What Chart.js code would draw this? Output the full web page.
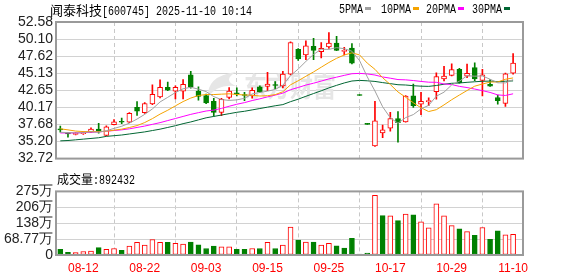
<!DOCTYPE html>
<html>
<head>
<meta charset="utf-8">
<script src="https://cdn.jsdelivr.net/npm/chart.js@4.4.1/dist/chart.umd.min.js"></script>
<style>
  html, body { margin: 0; padding: 0; background: #fff; }
  #wrap { position: relative; width: 578px; height: 276px; overflow: hidden; }
  canvas { position: absolute; left: 0; }
  #price-chart { top: 0; }
  #vol-chart { top: 180px; }
  .txt { position: absolute; white-space: nowrap; color: #000; line-height: 1; }
  .cjk { font-family: "Noto Sans CJK SC", sans-serif; font-size: 13px; }
  .mono { display: inline-block; font-family: "Liberation Mono", monospace; font-size: 10px; transform: scaleY(1.2); }
  .leg { position: absolute; top: 4px; font-family: "Liberation Mono", monospace; font-size: 10px; color: #000; }
  .leg span { display: inline-block; transform: scaleY(1.2); }
  .leg i { display: inline-block; width: 6px; height: 3px; margin-left: 2px; vertical-align: 2px; }
</style>
</head>
<body>
<div id="wrap">
  <canvas id="price-chart" width="578" height="170"></canvas>
  <canvas id="vol-chart" width="578" height="96"></canvas>
  <div class="txt" style="left:50px;top:2px;"><span class="cjk">闻泰科技</span><span class="mono">[600745] 2025-11-10 10:14</span></div>
  <div class="leg" style="left:339px;"><span>5PMA</span><i style="background:#a0a0a0"></i></div>
  <div class="leg" style="left:381px;"><span>10PMA</span><i style="background:#f5a300"></i></div>
  <div class="leg" style="left:426px;"><span>20PMA</span><i style="background:#ff00ff"></i></div>
  <div class="leg" style="left:472px;"><span>30PMA</span><i style="background:#006633"></i></div>
  <div class="txt" style="left:57px;top:171px;"><span class="cjk" style="font-size:12px">成交量</span><span class="mono">:892432</span></div>
</div>
<script>
const dates = ['08-07','08-08','08-11','08-12','08-13','08-14','08-15','08-18','08-19','08-20',
  '08-21','08-22','08-25','08-26','08-27','08-28','08-29','09-01','09-02','09-03',
  '09-04','09-05','09-08','09-09','09-10','09-11','09-12','09-15','09-16','09-17',
  '09-18','09-19','09-22','09-23','09-24','09-25','09-26','09-29','09-30','10-13',
  '10-14','10-15','10-16','10-17','10-20','10-21','10-22','10-23','10-24','10-27',
  '10-28','10-29','10-30','10-31','11-03','11-04','11-05','11-06','11-07','11-10'];

const opens = [36.95,36.5,36.25,36.35,36.57,37.0,36.1,37.65,38.1,38.02,
  40.18,39.4,40.68,41.7,43.07,42.52,42.54,44.9,42.55,41.9,
  41.05,39.45,41.6,42.25,41.95,41.85,43.15,43.2,43.4,43.3,
  45.0,48.6,47.8,49.05,48.25,48.95,49.5,48.3,48.8,41.9,
  37.7,34.55,36.45,37.15,38.55,38.05,41.85,40.65,41.0,42.45,
  44.3,44.8,45.7,44.7,45.95,44.1,43.5,41.6,40.75,45.15];
const highs = [37.45,36.55,36.5,36.6,37.2,37.85,37.5,38.4,38.6,39.4,
  41.0,40.85,43.44,44.17,43.85,43.3,44.2,45.4,43.15,42.1,
  41.5,41.5,43.05,43.0,42.35,43.0,43.3,45.25,43.9,45.4,
  49.7,48.7,49.85,50.2,49.6,51.05,50.5,48.9,49.45,41.9,
  37.7,41.05,37.6,39.45,39.55,41.9,43.55,42.35,41.55,45.2,
  46.15,46.5,45.85,46.45,46.65,45.7,44.2,41.95,45.15,48.0];
const lows = [36.55,35.85,36.15,36.25,36.5,36.4,36.0,37.6,37.8,37.95,
  39.0,39.3,40.55,41.56,42.6,41.4,41.4,42.95,41.2,40.7,
  38.9,38.95,41.4,41.83,41.15,41.5,42.3,42.6,42.9,43.0,
  44.9,47.0,47.1,47.1,47.35,48.75,48.4,47.8,46.5,41.9,
  37.7,34.5,35.75,36.7,35.1,38.0,40.15,39.1,40.4,41.35,
  44.0,44.75,43.7,44.5,44.05,41.85,43.2,40.65,40.3,45.0];
const closes = [36.9,36.3,36.4,36.45,37.02,36.65,37.35,38.07,38.0,39.3,
  39.63,40.73,42.06,43.07,42.66,43.07,43.51,43.13,41.75,40.82,
  39.45,41.35,42.55,42.15,41.9,42.66,42.4,43.55,43.35,45.0,
  49.6,47.2,49.1,48.45,48.75,49.5,48.45,48.35,46.6,41.9,
  37.7,38.2,36.9,38.55,37.95,41.8,40.4,41.05,41.1,44.65,
  44.7,45.65,43.75,45.1,44.3,44.9,43.25,41.15,45.05,46.6];

// volume in 万
const volumes = [24,12,11,15,17,32,24,28,20,39,
  55,43,67,55,55,51,47,56,44,28,
  39,35,35,24,24,28,28,55,28,43,
  121,64,56,56,43,51,40,30,72,4,
  8,258,170,169,149,177,174,144,117,221,
  169,127,113,101,85,119,68,105,87,89.24];

const ma5 = [36.55,36.5,36.45,36.5,36.61,36.56,36.77,37.11,37.42,37.87,
  38.47,39.15,39.94,40.96,41.63,42.32,42.87,43.09,42.82,42.46,
  41.73,41.3,41.18,41.26,41.48,42.12,42.33,42.53,42.77,43.39,
  44.78,45.74,46.85,47.87,48.62,48.6,48.85,48.7,48.33,46.96,
  44.6,42.55,40.26,38.65,37.86,38.68,39.12,39.95,40.46,41.8,
  42.38,43.43,43.97,44.77,44.7,44.74,44.26,43.74,43.73,44.19];
const ma10 = [37.05,36.9,36.72,36.65,36.65,36.65,36.7,36.85,37.0,37.24,
  37.52,37.96,38.53,39.19,39.75,40.39,41.01,41.52,41.89,42.04,
  42.03,42.09,42.14,42.04,41.97,41.93,41.82,41.86,42.02,42.44,
  43.45,44.04,44.69,45.32,46.01,46.69,47.3,47.78,48.1,47.79,
  46.6,45.7,44.48,43.49,42.41,41.64,40.84,40.11,39.56,39.83,
  40.53,41.28,41.96,42.62,43.25,43.56,43.85,43.86,44.25,44.45];
const ma20 = [36.45,36.45,36.45,36.5,36.55,36.6,36.7,36.8,36.9,37.05,
  37.25,37.45,37.7,37.95,38.25,38.55,38.85,39.15,39.4,39.64,
  39.77,40.02,40.33,40.62,40.86,41.16,41.41,41.69,41.95,42.24,
  42.74,43.06,43.41,43.68,43.99,44.31,44.56,44.82,45.06,45.11,
  45.03,44.87,44.59,44.41,44.21,44.17,44.07,43.94,43.83,43.81,
  43.57,43.49,43.22,43.05,42.83,42.6,42.34,41.98,41.9,42.14];
const ma30 = [35.3,35.35,35.45,35.55,35.65,35.75,35.95,36.05,36.15,36.3,
  36.45,36.6,36.8,37.0,37.25,37.5,37.8,38.05,38.35,38.65,
  38.85,39.05,39.25,39.45,39.6,39.8,40.0,40.2,40.4,40.57,
  41.0,41.36,41.78,42.18,42.58,43.0,43.37,43.72,44.0,44.09,
  44.03,43.94,43.77,43.62,43.46,43.42,43.32,43.25,43.22,43.35,
  43.53,43.67,43.71,43.81,43.89,43.96,43.99,43.91,43.97,44.02];

const tickIdx = [3, 11, 19, 27, 35, 43, 51, 59];
const priceTicks = [32.72, 35.20, 37.68, 40.17, 42.65, 45.13, 47.62, 50.10, 52.58];
const volTicks = [0, 68.77, 137.54, 206.31, 275.08];
const volTickLabels = ['0', '68.77万', '138万', '206万', '275万'];

const RED = '#ff0000', GREEN = '#008000';
const AXIS_FONT = { family: "'Liberation Sans Narrow','Liberation Sans',sans-serif", size: 14 };

// up/down by close vs open, ties by close vs previous close
function candleUp(i) {
  if (closes[i] !== opens[i]) return closes[i] > opens[i];
  return i > 0 ? closes[i] >= closes[i - 1] : true;
}
function volUp(i) {
  return i > 0 ? closes[i] >= closes[i - 1] : closes[i] >= opens[i];
}

const framePlugin = {
  id: 'frame',
  afterDraw(chart) {
    const a = chart.chartArea, ctx = chart.ctx;
    ctx.save();
    ctx.strokeStyle = '#9a9a9a';
    ctx.lineWidth = 2;
    ctx.strokeRect(a.left, a.top, a.right - a.left, a.bottom - a.top);
    ctx.restore();
  }
};

// faint site logo + name behind the candles
const watermark = {
  id: 'watermark',
  beforeDatasetsDraw(chart) {
    const ctx = chart.ctx;
    ctx.save();
    ctx.fillStyle = '#e6e6e6';
    ctx.beginPath();
    ctx.moveTo(236, 72);
    ctx.quadraticCurveTo(206, 76, 208, 98);
    ctx.quadraticCurveTo(216, 84, 236, 86);
    ctx.quadraticCurveTo(222, 80, 236, 72);
    ctx.fill();
    ctx.font = "bold 23px 'Noto Sans CJK SC'";
    ctx.textAlign = 'center';
    ctx.textBaseline = 'middle';
    ctx.translate(290, 87);
    ctx.scale(1, 1.2);
    ctx.fillText('东方财富', 0, 0);
    ctx.restore();
  }
};

function xScale(showLabels) {
  return {
    type: 'linear',
    offset: false,
    min: -0.56,
    max: 60.29,
    afterBuildTicks: s => { s.ticks = tickIdx.map(v => ({ value: v })); },
    afterFit: s => { s.height = showLabels ? 21 : 0; },
    border: { display: false, dash: [4, 3] },
    grid: { color: '#c8c8c8', lineWidth: 1, drawTicks: false },
    ticks: {
      display: showLabels,
      autoSkip: false,
      maxRotation: 0,
      padding: 6,
      color: RED,
      font: { family: "'Liberation Sans',sans-serif", size: 12 },
      callback: v => dates[v]
    }
  };
}

function yScale(min, max, ticks, label) {
  return {
    min: min,
    max: max,
    afterBuildTicks: s => { s.ticks = ticks.map(v => ({ value: v })); },
    afterFit: s => { s.width = 56; },
    border: { display: false },
    grid: { color: '#d2d2d2', drawTicks: false },
    ticks: { autoSkip: false, padding: 3, color: '#222', font: AXIS_FONT, callback: label }
  };
}

function renderPrice() {
  const idx = dates.map((d, i) => i);
  const wicks = idx.map(i => ({ x: i, y: [lows[i], highs[i]] }));
  const bodies = idx.map(i => ({ x: i, y: [opens[i], closes[i]] }));
  const edge = idx.map(i => candleUp(i) ? RED : GREEN);
  const fill = idx.map(i => candleUp(i) ? '#ffffff' : GREEN);
  const line = (arr, color) => ({
    type: 'line',
    data: arr.map((v, i) => ({ x: i, y: v })),
    borderColor: color,
    borderWidth: 1,
    pointRadius: 0,
    tension: 0,
    order: 0
  });

  new Chart(document.getElementById('price-chart'), {
    type: 'bar',
    data: {
      datasets: [
        line(ma5, '#a0a0a0'),
        line(ma10, '#f5a300'),
        line(ma20, '#ff00ff'),
        line(ma30, '#006633'),
        {
          data: bodies,
          backgroundColor: fill,
          borderColor: edge,
          borderWidth: 1,
          borderSkipped: false,
          barThickness: 5,
          minBarLength: 1,
          grouped: false,
          order: 1
        },
        {
          data: wicks,
          backgroundColor: edge,
          borderWidth: 0,
          barThickness: 1,
          minBarLength: 1,
          grouped: false,
          order: 2
        }
      ]
    },
    options: {
      responsive: false,
      animation: false,
      layout: { padding: { top: 22, right: 55, bottom: 5, left: 0 } },
      plugins: { legend: { display: false }, tooltip: { enabled: false } },
      scales: {
        x: xScale(false),
        y: yScale(32.72, 52.58, priceTicks, v => v.toFixed(2))
      }
    },
    plugins: [watermark, framePlugin]
  });
}

function renderVolume() {
  const idx = dates.map((d, i) => i);
  const edge = idx.map(i => volUp(i) ? RED : GREEN);
  const fill = idx.map(i => volUp(i) ? '#ffffff' : GREEN);

  new Chart(document.getElementById('vol-chart'), {
    type: 'bar',
    data: {
      datasets: [{
        data: idx.map(i => ({ x: i, y: volumes[i] })),
        backgroundColor: fill,
        borderColor: edge,
        borderWidth: 1,
        borderSkipped: false,
        barThickness: 5,
        grouped: false
      }]
    },
    options: {
      responsive: false,
      animation: false,
      layout: { padding: { top: 7, right: 55, bottom: 0, left: 0 } },
      plugins: { legend: { display: false }, tooltip: { enabled: false } },
      scales: {
        x: xScale(true),
        y: yScale(0, 275.08, volTicks, v => volTickLabels[volTicks.indexOf(v)])
      }
    },
    plugins: [framePlugin]
  });
}

renderPrice();
renderVolume();
</script>
</body>
</html>
